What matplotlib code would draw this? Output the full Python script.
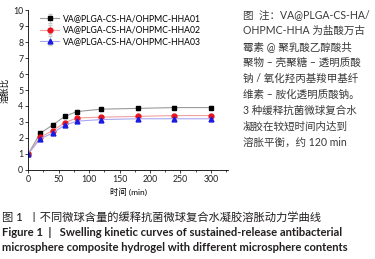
import matplotlib.pyplot as plt
import numpy as np

plt.rcParams['font.family'] = ['Lato', 'Noto Sans CJK SC', 'DejaVu Sans']
plt.rcParams['axes.unicode_minus'] = False

# data
t = [0, 20, 40, 60, 80, 120, 180, 240, 300]
hha01 = [1.0, 2.3, 2.8, 3.35, 3.65, 3.8, 3.85, 3.9, 3.9]
hha02 = [1.0, 2.05, 2.45, 2.95, 3.25, 3.3, 3.35, 3.4, 3.4]
hha03 = [1.0, 1.95, 2.3, 2.8, 3.05, 3.15, 3.2, 3.2, 3.2]
err01 = [0.0, 0.12, 0.12, 0.1, 0.12, 0.1, 0.1, 0.1, 0.1]
err02 = [0.0, 0.1, 0.1, 0.1, 0.1, 0.1, 0.1, 0.1, 0.1]
err03 = [0.0, 0.1, 0.1, 0.1, 0.08, 0.08, 0.08, 0.08, 0.08]
labels = ['VA@PLGA-CS-HA/OHPMC-HHA01', 'VA@PLGA-CS-HA/OHPMC-HHA02',
          'VA@PLGA-CS-HA/OHPMC-HHA03']

fig = plt.figure(figsize=(3.75, 2.59), dpi=100)
ax = fig.add_axes([0.075, 0.344, 0.533, 0.617])

series = [(hha01, err01, 's', 'black', '#9a9a9a'),
          (hha02, err02, 'o', '#e8141e', '#f2a0a0'),
          (hha03, err03, '^', '#1a1ae0', '#a8a8f0')]
for (y, e, m, c, lc), lab in zip(series, labels):
    ax.errorbar(t, y, yerr=e, color=lc, lw=0.8, ecolor='#c8c8c8', elinewidth=0.6,
                capsize=1.2, marker=m, ms=3.5, mfc=c, mec=c, label=lab)

ax.set_xlim(0, 328)
ax.set_ylim(0, 10)
ax.set_xticks(np.arange(0, 301, 50))
ax.set_xticks(np.arange(25, 330, 50), minor=True)
ax.set_yticks(range(0, 11))
ax.tick_params(labelsize=6.3, length=2.5, width=0.6, pad=1, colors='#231f20')
ax.tick_params(which='minor', length=1.5, width=0.5)
for s in ['top', 'right']:
    ax.spines[s].set_visible(False)
for s in ['left', 'bottom']:
    ax.spines[s].set_linewidth(0.6)
ax.set_ylabel('溶胀比', fontsize=6, labelpad=3)
ax.set_xlabel('时间 (min)', fontsize=6, labelpad=3)
ax.legend(loc='upper left', frameon=False, fontsize=6.2, handlelength=2.2,
          borderaxespad=0.1, labelspacing=0.25, handletextpad=0.4,
          bbox_to_anchor=(0.04, 1.0))

note = ('图  注：VA@PLGA-CS-HA/\nOHPMC-HHA 为盐酸万古\n霉素 @ 聚乳酸乙醇酸共\n'
        '聚物 – 壳聚糖 – 透明质酸\n钠 / 氧化羟丙基羧甲基纤\n维素 – 胺化透明质酸钠。\n'
        '3 种缓释抗菌微球复合水\n凝胶在较短时间内达到\n溶胀平衡，约 120 min')
fig.text(0.648, 0.965, note, fontsize=7.6, color='#3a3a3a', va='top', ha='left',
         linespacing=1.55)

fig.text(0.005, 0.162, '图 1  丨不同微球含量的缓释抗菌微球复合水凝胶溶胀动力学曲线',
         fontsize=8.1, fontweight='medium', color='#231f20', va='center', ha='left')
fig.text(0.005, 0.104, 'Figure 1  |   Swelling kinetic curves of sustained-release antibacterial',
         fontsize=8.1, fontweight='bold', color='#231f20', va='center', ha='left')
fig.text(0.005, 0.046, 'microsphere composite hydrogel with different microsphere contents',
         fontsize=8.1, fontweight='bold', color='#231f20', va='center', ha='left')

fig.savefig('out.png', dpi=100)
